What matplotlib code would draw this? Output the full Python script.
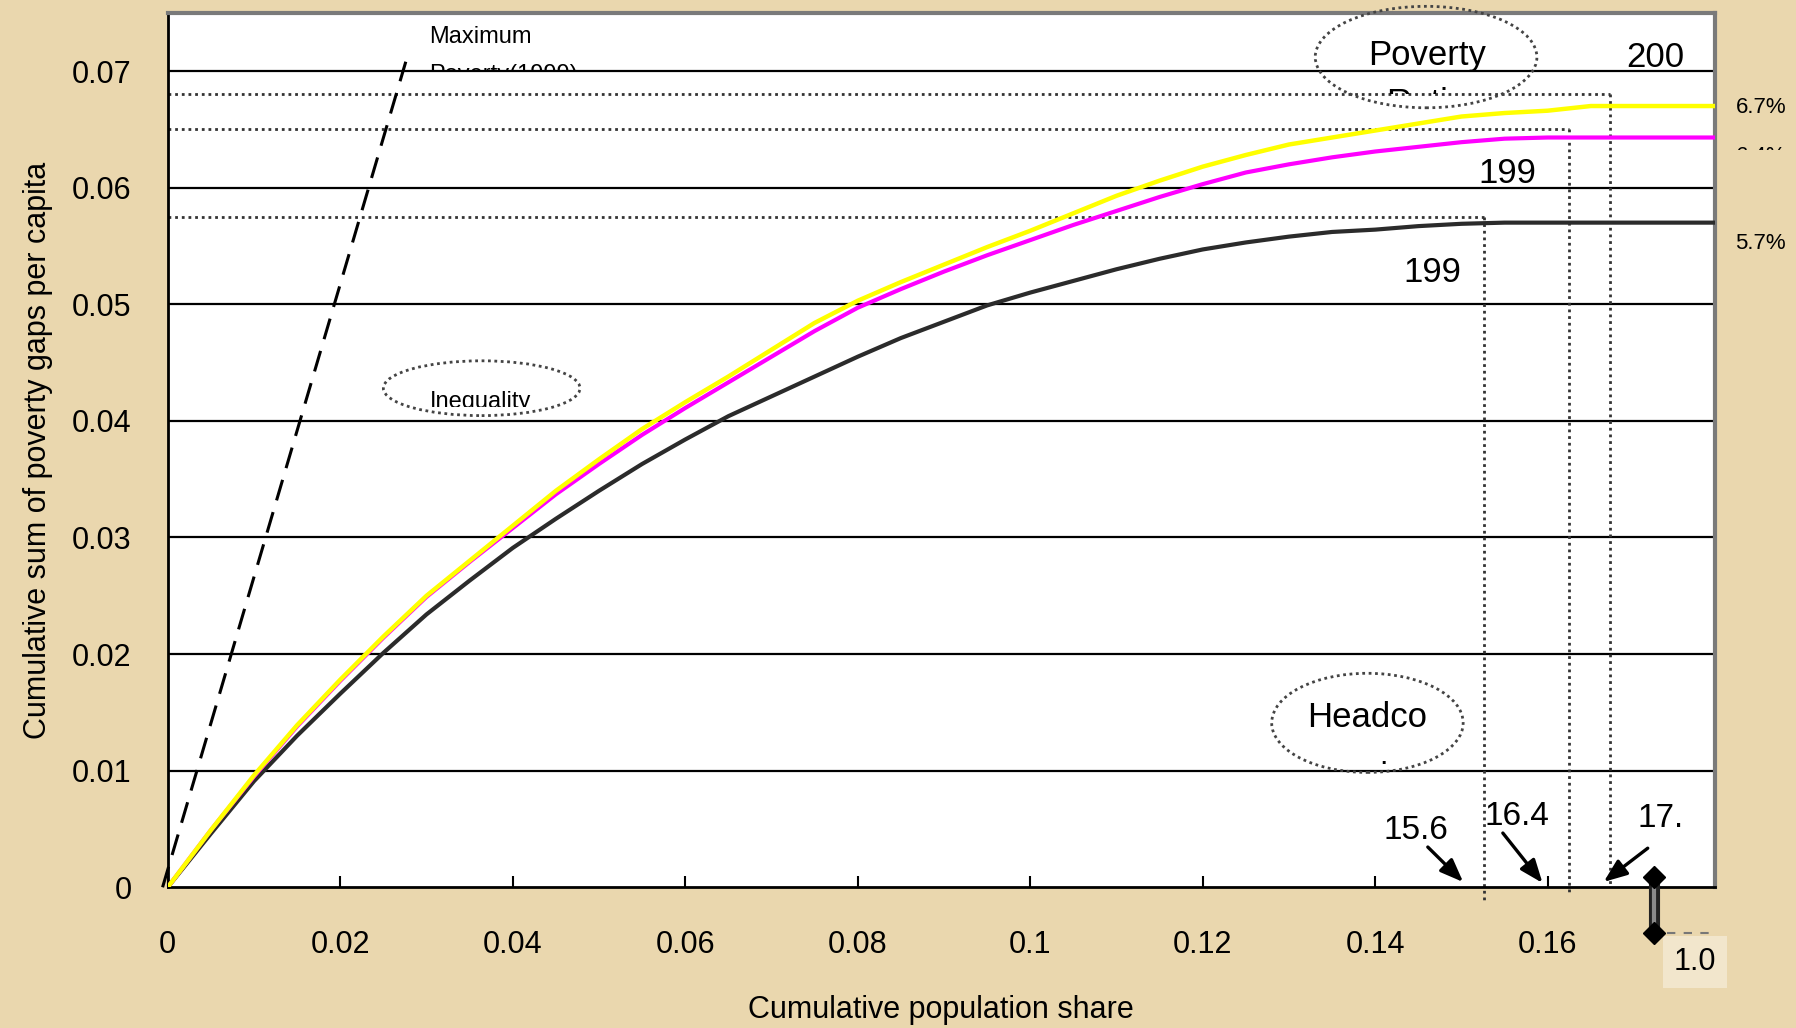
import numpy as np
import matplotlib.pyplot as plt
from matplotlib.patches import Ellipse, Rectangle

plt.rcParams['font.family'] = ['Liberation Sans', 'DejaVu Sans']

# cumulative population share (x) and cumulative poverty gaps (y)
pop_share = [0, 0.005, 0.01, 0.015, 0.02, 0.025, 0.03, 0.035, 0.04, 0.045, 0.05,
             0.055, 0.06, 0.065, 0.07, 0.075, 0.08, 0.085, 0.09, 0.095, 0.10,
             0.105, 0.11, 0.115, 0.12, 0.125, 0.13, 0.135, 0.14, 0.145, 0.15,
             0.155, 0.16, 0.165, 0.18]
gaps_2000 = [0, 0.0049, 0.0096, 0.0139, 0.0178, 0.0215, 0.0250, 0.0280, 0.0310, 0.0340,
             0.0367, 0.0393, 0.0416, 0.0438, 0.0461, 0.0484, 0.0503, 0.0519, 0.0534,
             0.0549, 0.0563, 0.0578, 0.0593, 0.0606, 0.0618, 0.0628, 0.0637, 0.0643,
             0.0649, 0.0655, 0.0661, 0.0664, 0.0666, 0.0670, 0.0670]
gaps_1999b = [0, 0.0049, 0.0095, 0.0138, 0.0177, 0.0214, 0.0249, 0.0279, 0.0308, 0.0337,
              0.0363, 0.0388, 0.0411, 0.0433, 0.0455, 0.0477, 0.0497, 0.0513, 0.0528,
              0.0542, 0.0555, 0.0568, 0.0580, 0.0592, 0.0603, 0.0613, 0.0620, 0.0626,
              0.0631, 0.0635, 0.0639, 0.0642, 0.0643, 0.0643, 0.0643]
gaps_1999a = [0, 0.0046, 0.0091, 0.0130, 0.0166, 0.0201, 0.0234, 0.0263, 0.0291, 0.0316,
              0.0340, 0.0363, 0.0384, 0.0404, 0.0421, 0.0438, 0.0455, 0.0471, 0.0485,
              0.0499, 0.0510, 0.0520, 0.0530, 0.0539, 0.0547, 0.0553, 0.0558, 0.0562,
              0.0564, 0.0567, 0.0569, 0.0570, 0.0570, 0.0570, 0.0570]

# maximum poverty line (1999)
max_x = [-0.0006, 0.0276]
max_y = [0.0, 0.0708]

# headcount / poverty ratio reference lines
ref_share = [0.1526, 0.1625, 0.1672]
ref_level = [0.0575, 0.0650, 0.0680]
ref_bottom = [-0.0013, -0.0007, 0.0]

x_ticks = [0, 0.02, 0.04, 0.06, 0.08, 0.10, 0.12, 0.14, 0.16]
x_tick_labels = ['0', '0.02', '0.04', '0.06', '0.08', '0.1', '0.12', '0.14', '0.16']
y_ticks = [0, 0.01, 0.02, 0.03, 0.04, 0.05, 0.06, 0.07]
y_tick_labels = ['0', '0.01', '0.02', '0.03', '0.04', '0.05', '0.06', '0.07']

bg = '#EAD7AE'
fig = plt.figure(figsize=(17.96, 10.28), dpi=100, facecolor=bg)
ax = fig.add_axes([0.0934, 0.1369, 0.9549 - 0.0934, 0.9876 - 0.1369])
ax.set_facecolor('white')
ax.set_xlim(0, 0.1794)
ax.set_ylim(0, 0.075)

for yv in y_ticks[1:]:
    ax.axhline(yv, color='black', lw=1.6, zorder=1)

dot = (0, (1, 1.4))
for s, lv, b in zip(ref_share, ref_level, ref_bottom):
    ax.plot([0, s], [lv, lv], color='#333333', lw=2, ls=dot, zorder=2)
    ax.plot([s, s], [lv, b], color='#333333', lw=2, ls=dot, zorder=2, clip_on=False)

ax.plot(max_x, max_y, color='black', lw=2.2, ls=(0, (7, 4)), zorder=3, clip_on=False)

ax.plot(pop_share, gaps_1999a, color='#2b2b2b', lw=3, zorder=4)
ax.plot(pop_share, gaps_1999b, color='#FF00FF', lw=3, zorder=5)
ax.plot(pop_share, gaps_2000, color='#FFFF00', lw=3.2, zorder=6)

ax.set_xticks(x_ticks)
ax.set_xticklabels(x_tick_labels)
ax.set_yticks(y_ticks)
ax.set_yticklabels(y_tick_labels)
ax.tick_params(axis='x', direction='in', length=8, width=1.5, pad=31, labelsize=22)
ax.tick_params(axis='y', direction='in', length=0, pad=26, labelsize=22)
ax.set_xlabel('Cumulative population share', fontsize=22, labelpad=25)
ax.set_ylabel('Cumulative sum of poverty gaps per capita', fontsize=22, labelpad=14)

for side in ['top', 'right']:
    ax.spines[side].set_color('#7a7a7a')
    ax.spines[side].set_linewidth(3)
for side in ['left', 'bottom']:
    ax.spines[side].set_color('black')
    ax.spines[side].set_linewidth(2)


def clipped(x, y, s, box, **kw):
    t = ax.text(x, y, s, **kw)
    r = Rectangle((box[0], box[1]), box[2] - box[0], box[3] - box[1], transform=ax.transData)
    t.set_clip_path(r)
    t.set_clip_on(True)
    return t


# ellipses
ell = dict(fill=False, ec='#444444', lw=2, ls=(0, (1, 1.3)), clip_on=False, zorder=7)
ax.add_patch(Ellipse((0.1459, 0.0712), 0.0257, 0.0087, **ell))
ax.add_patch(Ellipse((0.0364, 0.0428), 0.0228, 0.0047, **ell))
ax.add_patch(Ellipse((0.1391, 0.0141), 0.0222, 0.0085, **ell))

ax.text(0.1460, 0.0713, 'Poverty', fontsize=25, ha='center', va='center', zorder=8)
clipped(0.1460, 0.0672, 'Ratio', (0.13, 0.0680, 0.16, 0.075),
        fontsize=25, ha='center', va='center', zorder=8)
ax.text(0.1391, 0.01455, 'Headco', fontsize=25, ha='center', va='center', zorder=8)
ax.text(0.1410, 0.0113, '.', fontsize=22, ha='center', va='center', zorder=8)
clipped(0.0363, 0.0411, 'Inequality', (0.02, 0.0412, 0.06, 0.05),
        fontsize=17, ha='center', va='baseline', zorder=8)

ax.text(0.0303, 0.0729, 'Maximum', fontsize=17, ha='left', va='center', zorder=8)
clipped(0.0303, 0.0697, 'Poverty(1999)', (0.02, 0.0700, 0.07, 0.075),
        fontsize=17, ha='left', va='center', zorder=8)

ax.text(0.1725, 0.0712, '200', fontsize=25, ha='center', va='center', zorder=8)
ax.text(0.1553, 0.0612, '199', fontsize=25, ha='center', va='center', zorder=8)
ax.text(0.1466, 0.0527, '199', fontsize=25, ha='center', va='center', zorder=8)

# percentages outside the frame
ax.text(0.1847, 0.0669, '6.7%', fontsize=16, ha='center', va='center', clip_on=False)
t64 = ax.text(0.1847, 0.0627, '6.4%', fontsize=16, ha='center', va='center')
t64.set_clip_path(Rectangle((0.18, 0.0632), 0.01, 0.0006, transform=ax.transData))
t64.set_clip_on(True)
ax.text(0.1847, 0.0552, '5.7%', fontsize=16, ha='center', va='center', clip_on=False)

# headcount arrows
arr = dict(arrowstyle='-|>,head_length=1.4,head_width=0.55', color='black', lw=2.4,
           shrinkA=0, shrinkB=0)
ax.annotate('', xy=(0.1502, 0.00045), xytext=(0.1461, 0.00345), arrowprops=arr)
ax.annotate('', xy=(0.1594, 0.00037), xytext=(0.1548, 0.00465), arrowprops=arr)
ax.annotate('', xy=(0.1665, 0.00046), xytext=(0.1716, 0.00335), arrowprops=arr)
ax.text(0.1447, 0.0049, '15.6', fontsize=24, ha='center', va='center')
ax.text(0.1564, 0.0061, '16.4', fontsize=24, ha='center', va='center')
ax.text(0.1704, 0.0059, '17.', fontsize=24, ha='left', va='center')

# axis break marker and the 1.0 label
ax.plot([0.1723, 0.1723], [0.0009, -0.0039], color='#222222', lw=8, clip_on=False,
        solid_capstyle='butt', zorder=9)
ax.plot([0.1723, 0.1723], [0.0009, -0.0039], color='#8a8a8a', lw=3, clip_on=False,
        solid_capstyle='butt', zorder=9)
ax.plot([0.1723, 0.1723], [0.0009, -0.0039], color='black', lw=0, marker='D',
        ms=11, clip_on=False, zorder=10)
ax.plot([0.1738, 0.1795], [-0.0039, -0.0039], color='#777777', lw=1.5,
        ls=(0, (4, 4)), clip_on=False)
ax.text(0.1771, -0.0064, '1.0', fontsize=22, ha='center', va='center',
        bbox=dict(boxstyle='square,pad=0.35', fc='#F2E6CC', ec='none'))

fig.savefig('out.png', dpi=100, facecolor=bg)
